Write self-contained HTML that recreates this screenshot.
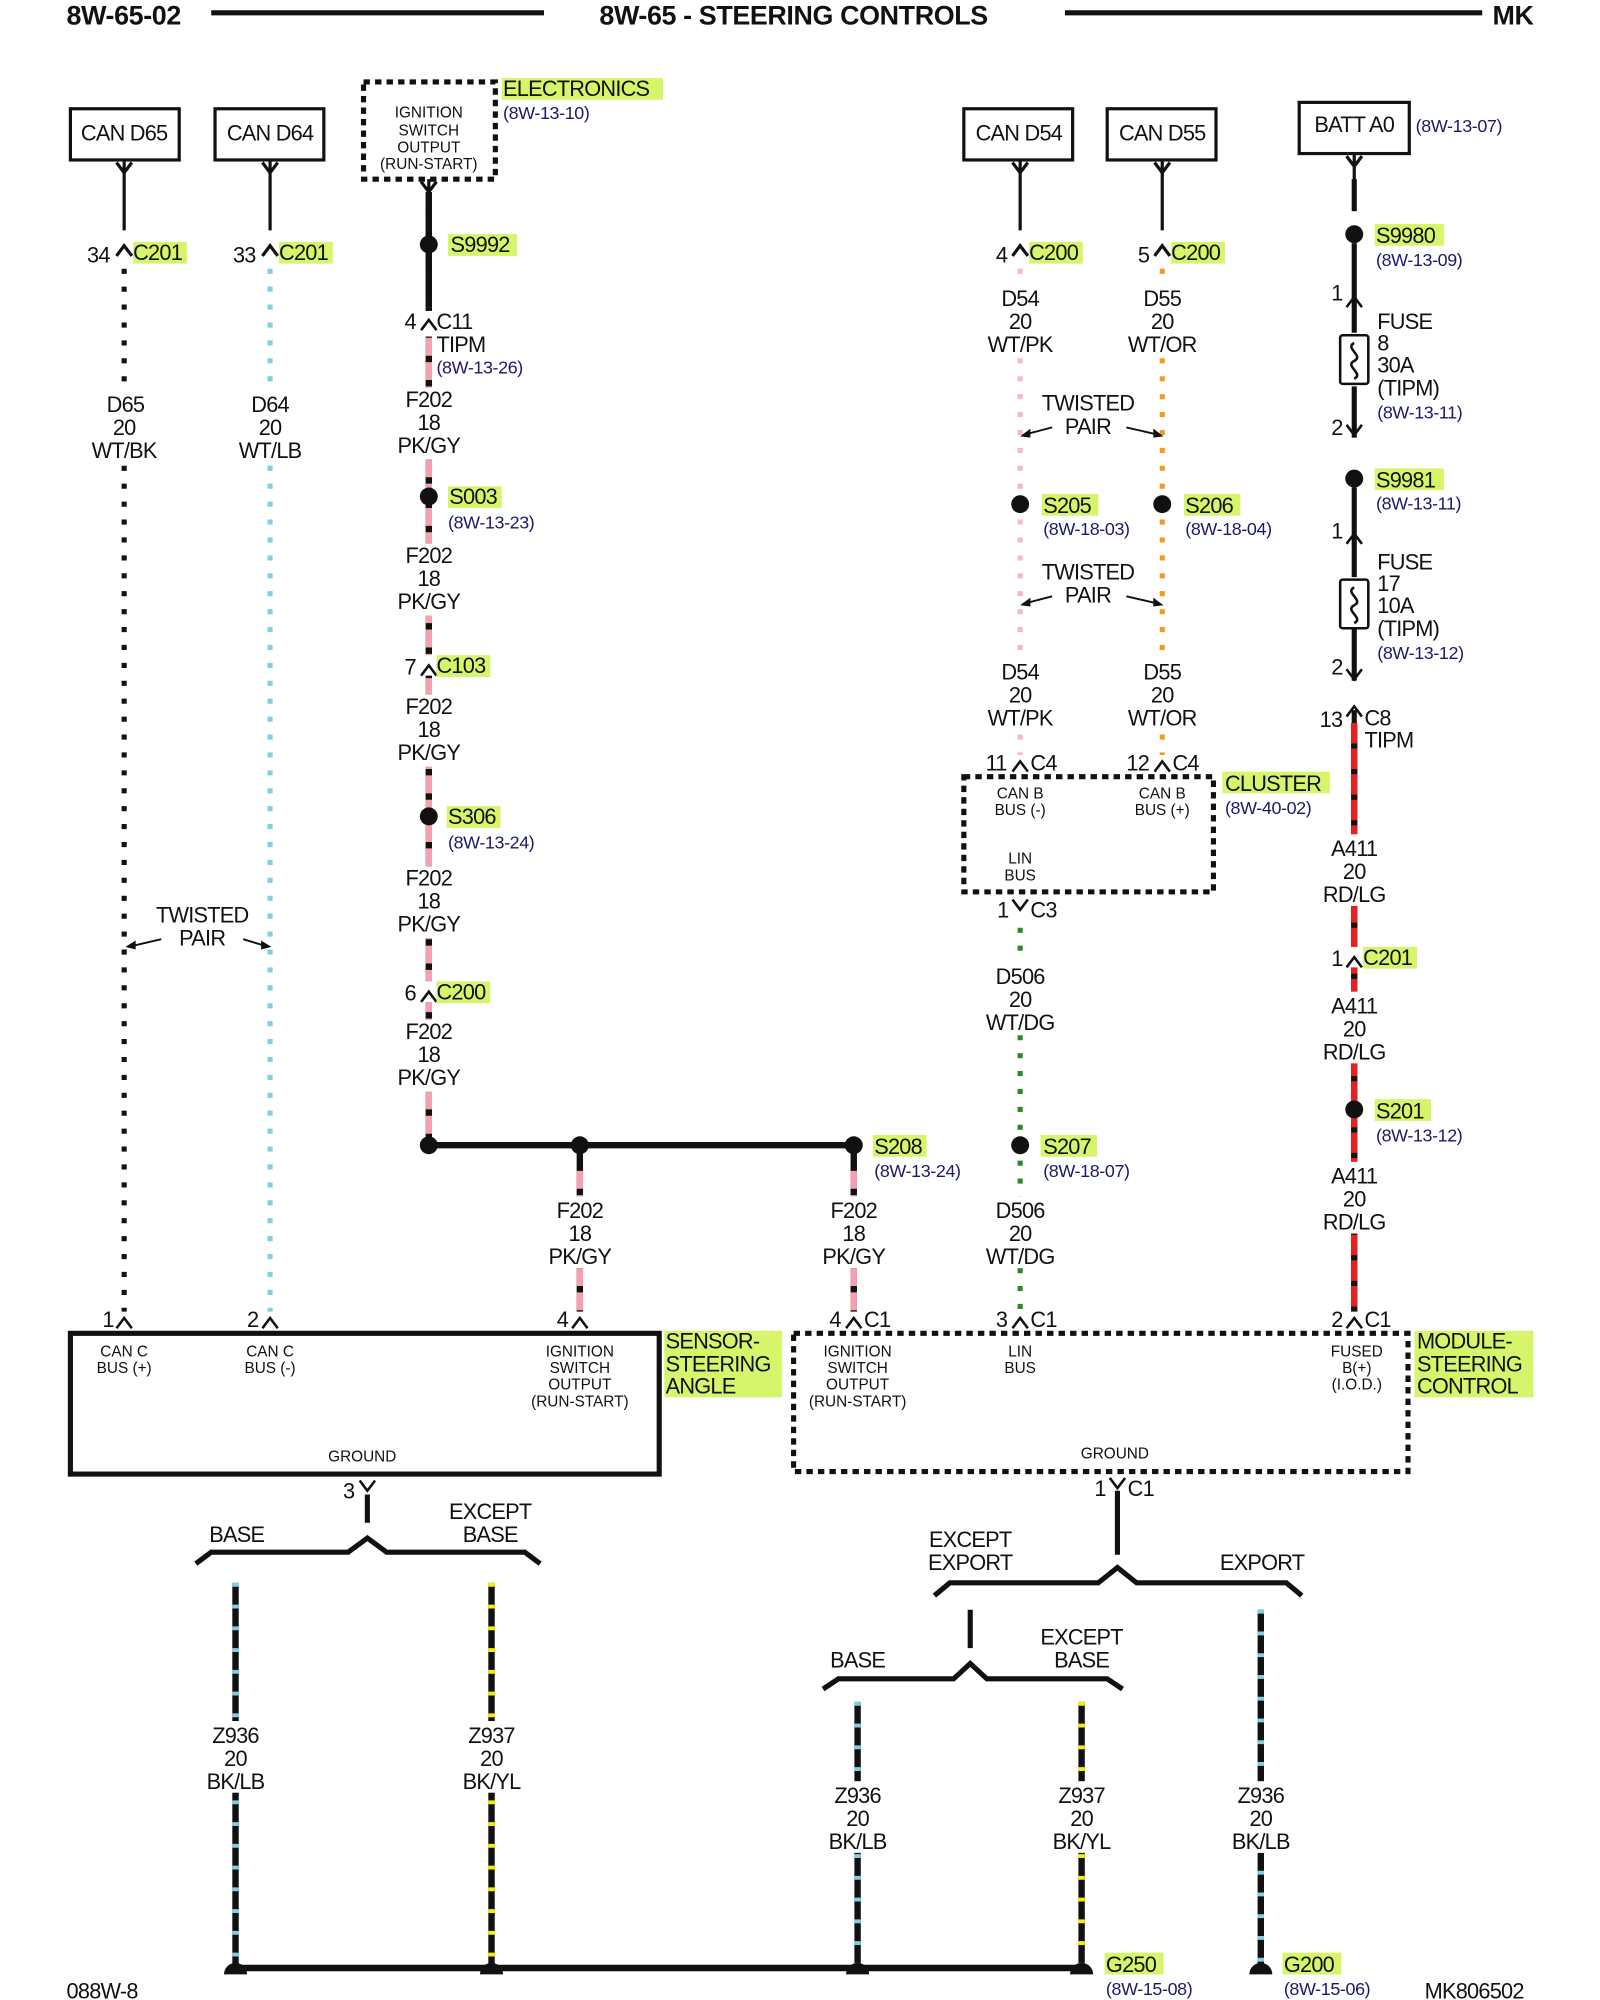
<!DOCTYPE html>
<html><head><meta charset="utf-8"><style>
html,body{margin:0;padding:0;background:#fff;}
svg{display:block;}
text{font-family:"Liberation Sans",sans-serif;font-size:17px;fill:#111;letter-spacing:-0.6px;}
.s{font-size:12px;letter-spacing:0;}
.r{font-size:14px;fill:#1a1a6a;letter-spacing:-0.3px;}
.c{text-anchor:middle;}
.hl{fill:#d6f56b;}
.h{font-size:21px;font-weight:bold;letter-spacing:-0.3px;}
</style></head><body>
<svg width="1600" height="2000" viewBox="0 0 1250 1563" preserveAspectRatio="none" xmlns="http://www.w3.org/2000/svg">
<!-- header -->
<text x="52" y="19" class="h">8W-65-02</text>
<line x1="165" y1="10" x2="425" y2="10" stroke="#111" stroke-width="4"/>
<text x="620" y="19" class="c h">8W-65 - STEERING CONTROLS</text>
<line x1="832" y1="10" x2="1158" y2="10" stroke="#111" stroke-width="4"/>
<text x="1166" y="19" class="h">MK</text>

<!-- top boxes -->
<g fill="none" stroke="#111" stroke-width="2.5">
<rect x="55" y="85" width="85" height="40"/>
<rect x="168" y="85" width="85" height="40"/>
<rect x="753" y="85" width="85" height="40"/>
<rect x="865" y="85" width="85" height="40"/>
<rect x="1015" y="80" width="86" height="40"/>
<rect x="284" y="64" width="103" height="76" stroke-dasharray="5 4" stroke-width="4"/>
</g>
<text x="97" y="110" class="c">CAN D65</text>
<text x="211" y="110" class="c">CAN D64</text>
<text x="796" y="110" class="c">CAN D54</text>
<text x="908" y="110" class="c">CAN D55</text>
<text x="1058" y="103" class="c">BATT A0</text>
<text x="335" y="92" class="c s">IGNITION</text>
<text x="335" y="106" class="c s">SWITCH</text>
<text x="335" y="119" class="c s">OUTPUT</text>
<text x="335" y="132" class="c s">(RUN-START)</text>
<rect x="392" y="61" width="126" height="17" class="hl"/>
<text x="393" y="75">ELECTRONICS</text>
<text x="393" y="93" class="r">(8W-13-10)</text>
<text x="1106" y="103" class="r">(8W-13-07)</text>

<g stroke="#111" stroke-width="2.5" fill="none">
<path d="M97 125v55M91 127l6 8 6-8M211 125v55M205 127l6 8 6-8M797 125v55M791 127l6 8 6-8M908 125v55M902 127l6 8 6-8M1058 120v45M1052 122l6 8 6-8M335 140v10M329 142l6 8 6-8"/>
<path d="M91 200l6-8 6 8M205 200l6-8 6 8M791 200l6-8 6 8M902 200l6-8 6 8"/>
</g>
<text x="68" y="205">34</text><rect x="104" y="189" width="42" height="17" class="hl"/><text x="104" y="203">C201</text>
<text x="182" y="205">33</text><rect x="218" y="189" width="42" height="17" class="hl"/><text x="218" y="203">C201</text>
<text x="778" y="205">4</text><rect x="804" y="189" width="42" height="17" class="hl"/><text x="804" y="203">C200</text>
<text x="889" y="205">5</text><rect x="915" y="189" width="42" height="17" class="hl"/><text x="915" y="203">C200</text>

<!-- D65 / D64 -->
<line x1="97" y1="210" x2="97" y2="1025" stroke="#111" stroke-width="4" stroke-dasharray="4 10"/>
<line x1="211" y1="210" x2="211" y2="1025" stroke="#7fd0e0" stroke-width="4" stroke-dasharray="4 10"/>
<rect x="78" y="303" width="40" height="58" fill="#fff"/>
<text x="98" y="322" class="c">D65</text><text x="97" y="340" class="c">20</text><text x="97" y="358" class="c">WT/BK</text>
<rect x="190" y="303" width="42" height="58" fill="#fff"/>
<text x="211" y="322" class="c">D64</text><text x="211" y="340" class="c">20</text><text x="211" y="358" class="c">WT/LB</text>
<text x="158" y="721" class="c">TWISTED</text><text x="158" y="739" class="c">PAIR</text>
<path d="M126 734l-26 6M190 734l20 6" stroke="#111" stroke-width="1.5" fill="none"/>
<path d="M98 740l8-5v7zM212 740l-8-5v7z" fill="#111"/>

<!-- F202 column -->
<line x1="335" y1="150" x2="335" y2="895" stroke="#111" stroke-width="5"/>
<line x1="335" y1="150" x2="335" y2="895" stroke="#f4a0b0" stroke-width="5" stroke-dasharray="14 5"/>
<line x1="335" y1="150" x2="335" y2="240" stroke="#111" stroke-width="5"/>
<circle cx="335" cy="191" r="7" fill="#111"/>
<rect x="350" y="183" width="54" height="17" class="hl"/><text x="352" y="197">S9992</text>
<g fill="#fff"><rect x="322" y="243" width="26" height="20"/><rect x="312" y="303" width="46" height="56"/><rect x="312" y="425" width="46" height="56"/><rect x="322" y="512" width="26" height="16"/><rect x="312" y="543" width="46" height="56"/><rect x="312" y="677" width="46" height="56"/><rect x="322" y="767" width="26" height="16"/><rect x="312" y="797" width="46" height="56"/></g>
<path d="M329 258l6-8 6 8M329 528l6-8 6 8M329 783l6-8 6 8" stroke="#111" stroke-width="2" fill="none"/>
<text x="316" y="257">4</text><text x="341" y="257">C11</text><text x="341" y="275">TIPM</text><text x="341" y="292" class="r">(8W-13-26)</text>
<text x="335" y="318" class="c">F202</text><text x="335" y="336" class="c">18</text><text x="335" y="354" class="c">PK/GY</text>
<circle cx="335" cy="388" r="7" fill="#111"/>
<rect x="350" y="380" width="42" height="17" class="hl"/><text x="351" y="394">S003</text><text x="350" y="413" class="r">(8W-13-23)</text>
<text x="335" y="440" class="c">F202</text><text x="335" y="458" class="c">18</text><text x="335" y="476" class="c">PK/GY</text>
<text x="316" y="527">7</text><rect x="341" y="512" width="42" height="17" class="hl"/><text x="341" y="526">C103</text>
<text x="335" y="558" class="c">F202</text><text x="335" y="576" class="c">18</text><text x="335" y="594" class="c">PK/GY</text>
<circle cx="335" cy="638" r="7" fill="#111"/>
<rect x="349" y="630" width="42" height="17" class="hl"/><text x="350" y="644">S306</text><text x="350" y="663" class="r">(8W-13-24)</text>
<text x="335" y="692" class="c">F202</text><text x="335" y="710" class="c">18</text><text x="335" y="728" class="c">PK/GY</text>
<text x="316" y="782">6</text><rect x="341" y="767" width="42" height="17" class="hl"/><text x="341" y="781">C200</text>
<text x="335" y="812" class="c">F202</text><text x="335" y="830" class="c">18</text><text x="335" y="848" class="c">PK/GY</text>

<!-- splice bus -->
<line x1="335" y1="895" x2="667" y2="895" stroke="#111" stroke-width="5"/>
<circle cx="335" cy="895" r="7" fill="#111"/><circle cx="453" cy="895" r="7" fill="#111"/><circle cx="667" cy="895" r="7" fill="#111"/>
<rect x="682" y="887" width="42" height="17" class="hl"/><text x="683" y="902">S208</text><text x="683" y="920" class="r">(8W-13-24)</text>
<g stroke-width="5">
<line x1="453" y1="900" x2="453" y2="1025" stroke="#111"/><line x1="453" y1="915" x2="453" y2="1025" stroke="#f4a0b0" stroke-dasharray="14 5"/>
<line x1="667" y1="900" x2="667" y2="1025" stroke="#111"/><line x1="667" y1="915" x2="667" y2="1025" stroke="#f4a0b0" stroke-dasharray="14 5"/>
</g>
<rect x="428" y="935" width="50" height="56" fill="#fff"/><rect x="642" y="935" width="50" height="56" fill="#fff"/>
<text x="453" y="952" class="c">F202</text><text x="453" y="970" class="c">18</text><text x="453" y="988" class="c">PK/GY</text>
<text x="667" y="952" class="c">F202</text><text x="667" y="970" class="c">18</text><text x="667" y="988" class="c">PK/GY</text>

<!-- D54/D55 -->
<line x1="797" y1="210" x2="797" y2="590" stroke="#f6b8c4" stroke-width="4" stroke-dasharray="4 10"/>
<line x1="908" y1="210" x2="908" y2="590" stroke="#f59a20" stroke-width="4" stroke-dasharray="4 10"/>
<rect x="772" y="222" width="50" height="56" fill="#fff"/><rect x="883" y="222" width="50" height="56" fill="#fff"/>
<text x="797" y="239" class="c">D54</text><text x="797" y="257" class="c">20</text><text x="797" y="275" class="c">WT/PK</text>
<text x="908" y="239" class="c">D55</text><text x="908" y="257" class="c">20</text><text x="908" y="275" class="c">WT/OR</text>
<rect x="806" y="305" width="90" height="38" fill="#fff"/>
<text x="850" y="321" class="c">TWISTED</text><text x="850" y="339" class="c">PAIR</text>
<path d="M822 334l-23 6M880 334l26 6" stroke="#111" stroke-width="1.5" fill="none"/>
<path d="M797 341l8-6v7zM909 341l-8-6v7z" fill="#111"/>
<circle cx="797" cy="394" r="7" fill="#111"/><circle cx="908" cy="394" r="7" fill="#111"/>
<rect x="814" y="386" width="44" height="17" class="hl"/><text x="815" y="401">S205</text><text x="815" y="418" class="r">(8W-18-03)</text>
<rect x="925" y="386" width="44" height="17" class="hl"/><text x="926" y="401">S206</text><text x="926" y="418" class="r">(8W-18-04)</text>
<rect x="806" y="437" width="90" height="38" fill="#fff"/>
<text x="850" y="453" class="c">TWISTED</text><text x="850" y="471" class="c">PAIR</text>
<path d="M822 466l-23 6M880 466l26 6" stroke="#111" stroke-width="1.5" fill="none"/>
<path d="M797 473l8-6v7zM909 473l-8-6v7z" fill="#111"/>
<rect x="772" y="514" width="50" height="56" fill="#fff"/><rect x="883" y="514" width="50" height="56" fill="#fff"/>
<text x="797" y="531" class="c">D54</text><text x="797" y="549" class="c">20</text><text x="797" y="567" class="c">WT/PK</text>
<text x="908" y="531" class="c">D55</text><text x="908" y="549" class="c">20</text><text x="908" y="567" class="c">WT/OR</text>
<path d="M791 603l6-8 6 8M902 603l6-8 6 8M791 703l6 8 6-8" stroke="#111" stroke-width="2" fill="none"/>
<text x="770" y="602">11</text><text x="805" y="602">C4</text>
<text x="880" y="602">12</text><text x="916" y="602">C4</text>
<rect x="753" y="607" width="195" height="90" fill="none" stroke="#111" stroke-width="4" stroke-dasharray="5 4"/>
<text x="797" y="624" class="c s">CAN B</text><text x="797" y="637" class="c s">BUS (-)</text>
<text x="908" y="624" class="c s">CAN B</text><text x="908" y="637" class="c s">BUS (+)</text>
<text x="797" y="675" class="c s">LIN</text><text x="797" y="688" class="c s">BUS</text>
<rect x="955" y="603" width="84" height="17" class="hl"/><text x="957" y="618">CLUSTER</text><text x="957" y="636" class="r">(8W-40-02)</text>
<text x="779" y="717">1</text><text x="805" y="717">C3</text>
<line x1="797" y1="725" x2="797" y2="1025" stroke="#2a8a2a" stroke-width="4" stroke-dasharray="4 10"/>
<rect x="772" y="752" width="50" height="56" fill="#fff"/>
<text x="797" y="769" class="c">D506</text><text x="797" y="787" class="c">20</text><text x="797" y="805" class="c">WT/DG</text>
<circle cx="797" cy="895" r="7" fill="#111"/>
<rect x="813" y="887" width="44" height="17" class="hl"/><text x="815" y="902">S207</text><text x="815" y="920" class="r">(8W-18-07)</text>
<rect x="772" y="935" width="50" height="56" fill="#fff"/>
<text x="797" y="952" class="c">D506</text><text x="797" y="970" class="c">20</text><text x="797" y="988" class="c">WT/DG</text>

<!-- battery column -->
<line x1="1058" y1="140" x2="1058" y2="165" stroke="#111" stroke-width="4"/>
<circle cx="1058" cy="183" r="7" fill="#111"/>
<rect x="1074" y="175" width="54" height="17" class="hl"/><text x="1075" y="190">S9980</text><text x="1075" y="208" class="r">(8W-13-09)</text>
<g stroke="#111" stroke-width="4" fill="none">
<path d="M1058 190v70M1058 302v40M1058 381v70M1058 492v40M1058 555v10"/>
</g>
<g stroke="#111" stroke-width="2" fill="none">
<rect x="1047" y="262" width="22" height="38" rx="2"/><path d="M1058 268c-8 4 8 10 0 14s8 10 0 14"/>
<rect x="1047" y="453" width="22" height="38" rx="2"/><path d="M1058 459c-8 4 8 10 0 14s8 10 0 14"/>
<path d="M1052 240l6-8 6 8M1052 332l6 8 6-8M1052 425l6-8 6 8M1052 523l6 8 6-8M1052 560l6-8 6 8"/>
</g>
<text x="1040" y="235">1</text><text x="1040" y="340">2</text><text x="1040" y="421">1</text><text x="1040" y="527">2</text>
<text x="1076" y="257">FUSE</text><text x="1076" y="274">8</text><text x="1076" y="291">30A</text><text x="1076" y="309">(TIPM)</text><text x="1076" y="327" class="r">(8W-13-11)</text>
<circle cx="1058" cy="374" r="7" fill="#111"/>
<rect x="1074" y="366" width="54" height="17" class="hl"/><text x="1075" y="381">S9981</text><text x="1075" y="398" class="r">(8W-13-11)</text>
<text x="1076" y="445">FUSE</text><text x="1076" y="462">17</text><text x="1076" y="479">10A</text><text x="1076" y="497">(TIPM)</text><text x="1076" y="515" class="r">(8W-13-12)</text>
<text x="1031" y="568">13</text><text x="1066" y="567">C8</text><text x="1066" y="584">TIPM</text>
<line x1="1058" y1="565" x2="1058" y2="1025" stroke="#111" stroke-width="5"/>
<line x1="1058" y1="565" x2="1058" y2="1025" stroke="#e82020" stroke-width="5" stroke-dasharray="16 4"/>
<rect x="1031" y="652" width="54" height="56" fill="#fff"/>
<text x="1058" y="669" class="c">A411</text><text x="1058" y="687" class="c">20</text><text x="1058" y="705" class="c">RD/LG</text>
<rect x="1045" y="740" width="26" height="16" fill="#fff"/>
<path d="M1052 756l6-8 6 8" stroke="#111" stroke-width="2" fill="none"/>
<text x="1040" y="755">1</text><rect x="1065" y="740" width="42" height="17" class="hl"/><text x="1065" y="754">C201</text>
<rect x="1031" y="775" width="54" height="56" fill="#fff"/>
<text x="1058" y="792" class="c">A411</text><text x="1058" y="810" class="c">20</text><text x="1058" y="828" class="c">RD/LG</text>
<circle cx="1058" cy="867" r="7" fill="#111"/>
<rect x="1074" y="859" width="44" height="17" class="hl"/><text x="1075" y="874">S201</text><text x="1075" y="892" class="r">(8W-13-12)</text>
<rect x="1031" y="908" width="54" height="56" fill="#fff"/>
<text x="1058" y="925" class="c">A411</text><text x="1058" y="943" class="c">20</text><text x="1058" y="961" class="c">RD/LG</text>

<!-- bottom connectors -->
<path d="M91 1038l6-8 6 8M205 1038l6-8 6 8M447 1038l6-8 6 8M661 1038l6-8 6 8M791 1038l6-8 6 8M1052 1038l6-8 6 8" stroke="#111" stroke-width="2" fill="none"/>
<text x="80" y="1037">1</text><text x="193" y="1037">2</text><text x="435" y="1037">4</text>
<text x="648" y="1037">4</text><text x="675" y="1037">C1</text>
<text x="778" y="1037">3</text><text x="805" y="1037">C1</text>
<text x="1040" y="1037">2</text><text x="1066" y="1037">C1</text>

<!-- sensor box -->
<rect x="55" y="1042" width="460" height="110" fill="none" stroke="#111" stroke-width="4"/>
<text x="97" y="1060" class="c s">CAN C</text><text x="97" y="1073" class="c s">BUS (+)</text>
<text x="211" y="1060" class="c s">CAN C</text><text x="211" y="1073" class="c s">BUS (-)</text>
<text x="453" y="1060" class="c s">IGNITION</text><text x="453" y="1073" class="c s">SWITCH</text><text x="453" y="1086" class="c s">OUTPUT</text><text x="453" y="1099" class="c s">(RUN-START)</text>
<text x="283" y="1142" class="c s">GROUND</text>
<rect x="519" y="1040" width="92" height="52" class="hl"/>
<text x="520" y="1054">SENSOR-</text><text x="520" y="1072">STEERING</text><text x="520" y="1089">ANGLE</text>

<!-- module box -->
<rect x="620" y="1042" width="480" height="108" fill="none" stroke="#111" stroke-width="4" stroke-dasharray="5 4"/>
<text x="670" y="1060" class="c s">IGNITION</text><text x="670" y="1073" class="c s">SWITCH</text><text x="670" y="1086" class="c s">OUTPUT</text><text x="670" y="1099" class="c s">(RUN-START)</text>
<text x="797" y="1060" class="c s">LIN</text><text x="797" y="1073" class="c s">BUS</text>
<text x="1060" y="1060" class="c s">FUSED</text><text x="1060" y="1073" class="c s">B(+)</text><text x="1060" y="1086" class="c s">(I.O.D.)</text>
<text x="871" y="1140" class="c s">GROUND</text>
<rect x="1105" y="1040" width="93" height="52" class="hl"/>
<text x="1107" y="1054">MODULE-</text><text x="1107" y="1072">STEERING</text><text x="1107" y="1089">CONTROL</text>

<!-- grounds -->
<g stroke="#111" stroke-width="2" fill="none"><path d="M281 1157l6 8 6-8M867 1155l6 8 6-8"/></g>
<text x="268" y="1171">3</text><text x="855" y="1169">1</text><text x="881" y="1169">C1</text>
<g stroke="#111" stroke-width="4" fill="none">
<path d="M287 1168v22M153 1222l12-9h107l15-11 15 11h108l12 9"/>
<path d="M873 1165v50M730 1247l12-10h116l15-12 15 12h117l12 10"/>
<path d="M758 1258v30M643 1320l12-8h90l13-12 13 12h94l12 8"/>
</g>
<text x="185" y="1205" class="c">BASE</text>
<text x="383" y="1187" class="c">EXCEPT</text><text x="383" y="1205" class="c">BASE</text>
<text x="758" y="1209" class="c">EXCEPT</text><text x="758" y="1227" class="c">EXPORT</text>
<text x="986" y="1227" class="c">EXPORT</text>
<text x="670" y="1303" class="c">BASE</text>
<text x="845" y="1285" class="c">EXCEPT</text><text x="845" y="1303" class="c">BASE</text>

<g stroke-width="5">
<line x1="184" y1="1237" x2="184" y2="1535" stroke="#111"/><line x1="184" y1="1237" x2="184" y2="1535" stroke="#7fd0e0" stroke-dasharray="3 14"/>
<line x1="384" y1="1237" x2="384" y2="1535" stroke="#111"/><line x1="384" y1="1237" x2="384" y2="1535" stroke="#f5f000" stroke-dasharray="3 14"/>
<line x1="670" y1="1330" x2="670" y2="1535" stroke="#111"/><line x1="670" y1="1330" x2="670" y2="1535" stroke="#7fd0e0" stroke-dasharray="3 14"/>
<line x1="845" y1="1330" x2="845" y2="1535" stroke="#111"/><line x1="845" y1="1330" x2="845" y2="1535" stroke="#f5f000" stroke-dasharray="3 14"/>
<line x1="985" y1="1258" x2="985" y2="1535" stroke="#111"/><line x1="985" y1="1258" x2="985" y2="1535" stroke="#7fd0e0" stroke-dasharray="3 14"/>
</g>
<g fill="#fff"><rect x="158" y="1345" width="54" height="56"/><rect x="358" y="1345" width="54" height="56"/><rect x="644" y="1392" width="54" height="56"/><rect x="818" y="1392" width="54" height="56"/><rect x="958" y="1392" width="54" height="56"/></g>
<text x="184" y="1362" class="c">Z936</text><text x="184" y="1380" class="c">20</text><text x="184" y="1398" class="c">BK/LB</text>
<text x="384" y="1362" class="c">Z937</text><text x="384" y="1380" class="c">20</text><text x="384" y="1398" class="c">BK/YL</text>
<text x="670" y="1409" class="c">Z936</text><text x="670" y="1427" class="c">20</text><text x="670" y="1445" class="c">BK/LB</text>
<text x="845" y="1409" class="c">Z937</text><text x="845" y="1427" class="c">20</text><text x="845" y="1445" class="c">BK/YL</text>
<text x="985" y="1409" class="c">Z936</text><text x="985" y="1427" class="c">20</text><text x="985" y="1445" class="c">BK/LB</text>

<line x1="184" y1="1538" x2="845" y2="1538" stroke="#111" stroke-width="5"/>
<g fill="#111">
<path d="M175 1543a9 9 0 0 1 18 0z"/><path d="M375 1543a9 9 0 0 1 18 0z"/><path d="M661 1543a9 9 0 0 1 18 0z"/><path d="M836 1543a9 9 0 0 1 18 0z"/><path d="M976 1543a9 9 0 0 1 18 0z"/>
</g>
<rect x="863" y="1526" width="46" height="17" class="hl"/><text x="864" y="1541">G250</text><text x="864" y="1559" class="r">(8W-15-08)</text>
<rect x="1002" y="1526" width="46" height="17" class="hl"/><text x="1003" y="1541">G200</text><text x="1003" y="1559" class="r">(8W-15-06)</text>
<text x="52" y="1562">088W-8</text>
<text x="1113" y="1562">MK806502</text>
</svg>
</body></html>
